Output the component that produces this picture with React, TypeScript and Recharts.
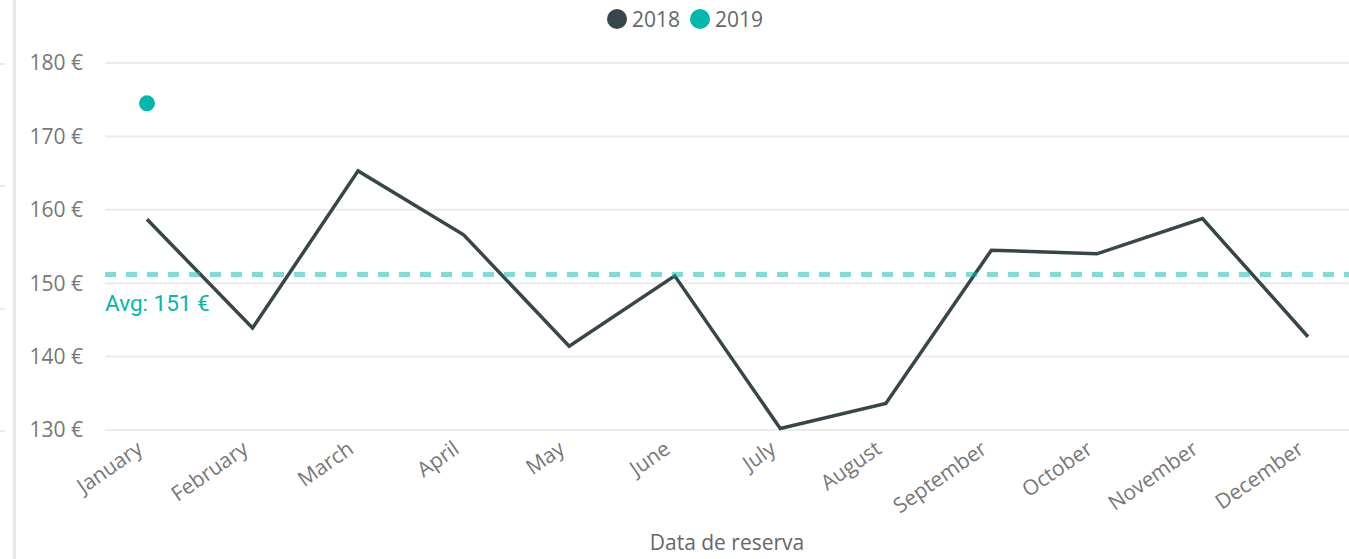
import { LineChart, Line, XAxis, YAxis, CartesianGrid, ReferenceLine } from "recharts";

const months = [
  "January", "February", "March", "April", "May", "June",
  "July", "August", "September", "October", "November", "December",
];
const price2018 = [158.7, 143.9, 165.3, 156.6, 141.4, 151.0, 130.2, 133.6, 154.5, 154.0, 158.8, 142.7];
const price2019: (number | null)[] = [174.5, null, null, null, null, null, null, null, null, null, null, null];
const yTicks = [130, 140, 150, 160, 170, 180];

const DARK = "#374649";
const TEAL = "#01B8AA";
const FONT = "'Open Sans', 'Noto Sans', sans-serif";

const data = months.map((m, i) => ({ month: m, y2018: price2018[i], y2019: price2019[i] }));

// average over every plotted point (both years)
const allVals = [...price2018, ...price2019].filter((v): v is number => v != null);
const avg = allVals.reduce((s, v) => s + v, 0) / allVals.length;

function MonthTick(props: any) {
  const { x, y, payload } = props;
  const tx = x - 3;
  const ty = y + 22;
  return (
    <text
      x={tx}
      y={ty}
      textAnchor="end"
      transform={`rotate(-35, ${tx}, ${ty})`}
      fill="#777"
      fontSize={21}
      fontFamily={FONT}
    >
      {payload.value}
    </text>
  );
}

function AvgLabel(props: any) {
  const vb = props.viewBox || {};
  return (
    <text x={vb.x} y={vb.y + 36} fill={TEAL} fontSize={22.5} fontFamily="Roboto, sans-serif">
      {`Avg: ${Math.round(avg)} €`}
    </text>
  );
}

export default function App() {
  return (
    <div style={{ position: "absolute", left: 0, top: 0, width: 1349, height: 559, background: "#fff" }}>
      {/* left panel border */}
      <div style={{ position: "absolute", left: 13, top: 0, width: 3, height: 559, background: "#e8e8e8" }} />
      {[63, 185, 308, 430].map((t) => (
        <div key={t} style={{ position: "absolute", left: 0, top: t, width: 5, height: 2, background: "#e8e8e8" }} />
      ))}

      {/* legend */}
      <div
        style={{
          position: "absolute",
          top: 6,
          left: 607,
          display: "flex",
          alignItems: "center",
          fontFamily: FONT,
          fontSize: 21,
          color: "#666",
          lineHeight: "26px",
        }}
      >
        <span style={{ width: 20, height: 20, borderRadius: 10, background: DARK, marginRight: 5 }} />
        <span style={{ marginRight: 10 }}>2018</span>
        <span style={{ width: 20, height: 20, borderRadius: 10, background: TEAL, marginRight: 5 }} />
        <span>2019</span>
      </div>

      <LineChart width={1349} height={559} data={data} margin={{ top: 63, right: 0, bottom: 0, left: 0 }}>
        <CartesianGrid vertical={false} stroke="#ebebeb" strokeWidth={2} />
        <XAxis
          dataKey="month"
          scale="point"
          padding={{ left: 42, right: 41 }}
          height={129}
          interval={0}
          axisLine={false}
          tickLine={false}
          tickSize={0}
          tickMargin={0}
          tick={<MonthTick />}
          label={{
            value: "Data de reserva",
            position: "insideBottom",
            offset: 9,
            fill: "#666",
            fontSize: 21,
            fontFamily: FONT,
          }}
        />
        <YAxis
          width={105}
          domain={[130, 180]}
          ticks={yTicks}
          axisLine={false}
          tickLine={false}
          tickSize={0}
          tickMargin={22}
          tickFormatter={(v) => `${v} €`}
          tick={{ fill: "#777", fontSize: 21, fontFamily: FONT }}
        />
        <Line
          dataKey="y2018"
          stroke={DARK}
          strokeWidth={3.5}
          dot={false}
          activeDot={false}
          isAnimationActive={false}
        />
        <Line
          dataKey="y2019"
          stroke="none"
          dot={{ r: 8, fill: TEAL, stroke: TEAL, strokeWidth: 0 }}
          activeDot={false}
          isAnimationActive={false}
        />
        <ReferenceLine
          y={avg}
          stroke={TEAL}
          strokeOpacity={0.5}
          strokeWidth={5}
          strokeDasharray="11 10"
          label={<AvgLabel />}
        />
      </LineChart>
    </div>
  );
}
